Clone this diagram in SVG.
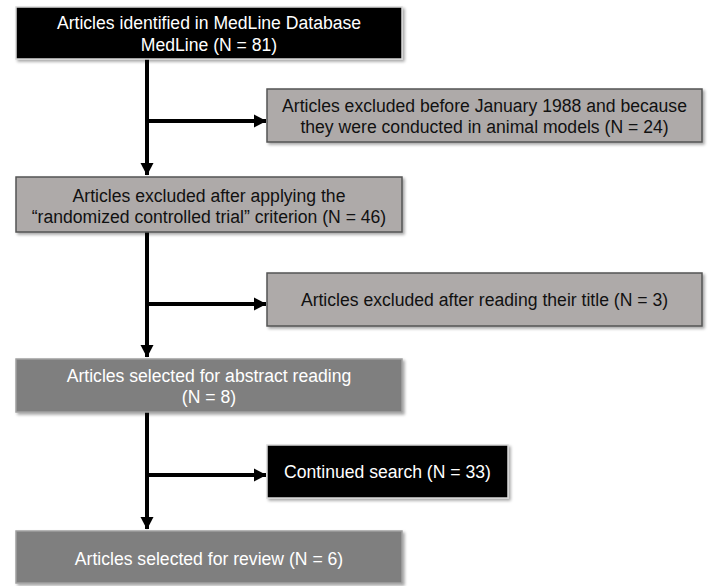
<svg xmlns="http://www.w3.org/2000/svg" width="708" height="586" viewBox="0 0 708 586">
<style>
text{font-family:"Liberation Sans",Arial,sans-serif;font-size:17.6px;text-anchor:middle}
.blk{fill:#000;stroke:#d8d8d8;stroke-width:1.5}
.lt{fill:#aeaaa9;stroke:#555;stroke-width:1.5}
.dk{fill:#7f7f7f;stroke:#a0a0a0;stroke-width:1.5}
.w{fill:#fff}
.b{fill:#111}
.c{fill:none;stroke:#000;stroke-width:4}
</style>
<defs>
<filter id="sh" x="-5%" y="-10%" width="115%" height="130%">
<feDropShadow dx="2" dy="2" stdDeviation="1.5" flood-color="#000" flood-opacity="0.35"/>
</filter>
<marker id="ah" markerUnits="userSpaceOnUse" markerWidth="14" markerHeight="14" viewBox="0 0 14 14" refX="12" refY="7" orient="auto">
<path d="M0,0.5 L12.5,7 L0,13.5 Z" fill="#000"/>
</marker>
</defs>
<g id="connectors">
<path class="c" d="M147,59 V175" marker-end="url(#ah)"/>
<path class="c" d="M147,121 H266" marker-end="url(#ah)"/>
<path class="c" d="M147,232 V357" marker-end="url(#ah)"/>
<path class="c" d="M147,304 H266" marker-end="url(#ah)"/>
<path class="c" d="M147,412 V529" marker-end="url(#ah)"/>
<path class="c" d="M147,475 H266" marker-end="url(#ah)"/>
</g>
<g id="n1">
<rect class="blk" x="16" y="7" width="386" height="52" filter="url(#sh)"/>
<text class="w" x="209" y="29">Articles identified in MedLine Database</text>
<text class="w" x="209" y="51">MedLine (N = 81)</text>
</g>
<g id="n2">
<rect class="lt" x="267" y="89" width="435" height="53" filter="url(#sh)"/>
<text class="b" x="484.5" y="112">Articles excluded before January 1988 and because</text>
<text class="b" x="484.5" y="133">they were conducted in animal models (N = 24)</text>
</g>
<g id="n3">
<rect class="lt" x="16" y="177" width="386" height="55" filter="url(#sh)"/>
<text class="b" x="209" y="202">Articles excluded after applying the</text>
<text class="b" x="209" y="223">“randomized controlled trial” criterion (N = 46)</text>
</g>
<g id="n4">
<rect class="lt" x="267" y="273" width="435" height="53" filter="url(#sh)"/>
<text class="b" x="484.5" y="306">Articles excluded after reading their title (N = 3)</text>
</g>
<g id="n5">
<rect class="dk" x="16" y="359" width="386" height="53" filter="url(#sh)"/>
<text class="w" x="209" y="382">Articles selected for abstract reading</text>
<text class="w" x="209" y="403">(N = 8)</text>
</g>
<g id="n6">
<rect class="blk" x="267" y="445" width="241" height="53" filter="url(#sh)"/>
<text class="w" x="387.5" y="478">Continued search (N = 33)</text>
</g>
<g id="n7">
<rect class="dk" x="16" y="531" width="386" height="52" filter="url(#sh)"/>
<text class="w" x="209" y="565">Articles selected for review (N = 6)</text>
</g>
</svg>
